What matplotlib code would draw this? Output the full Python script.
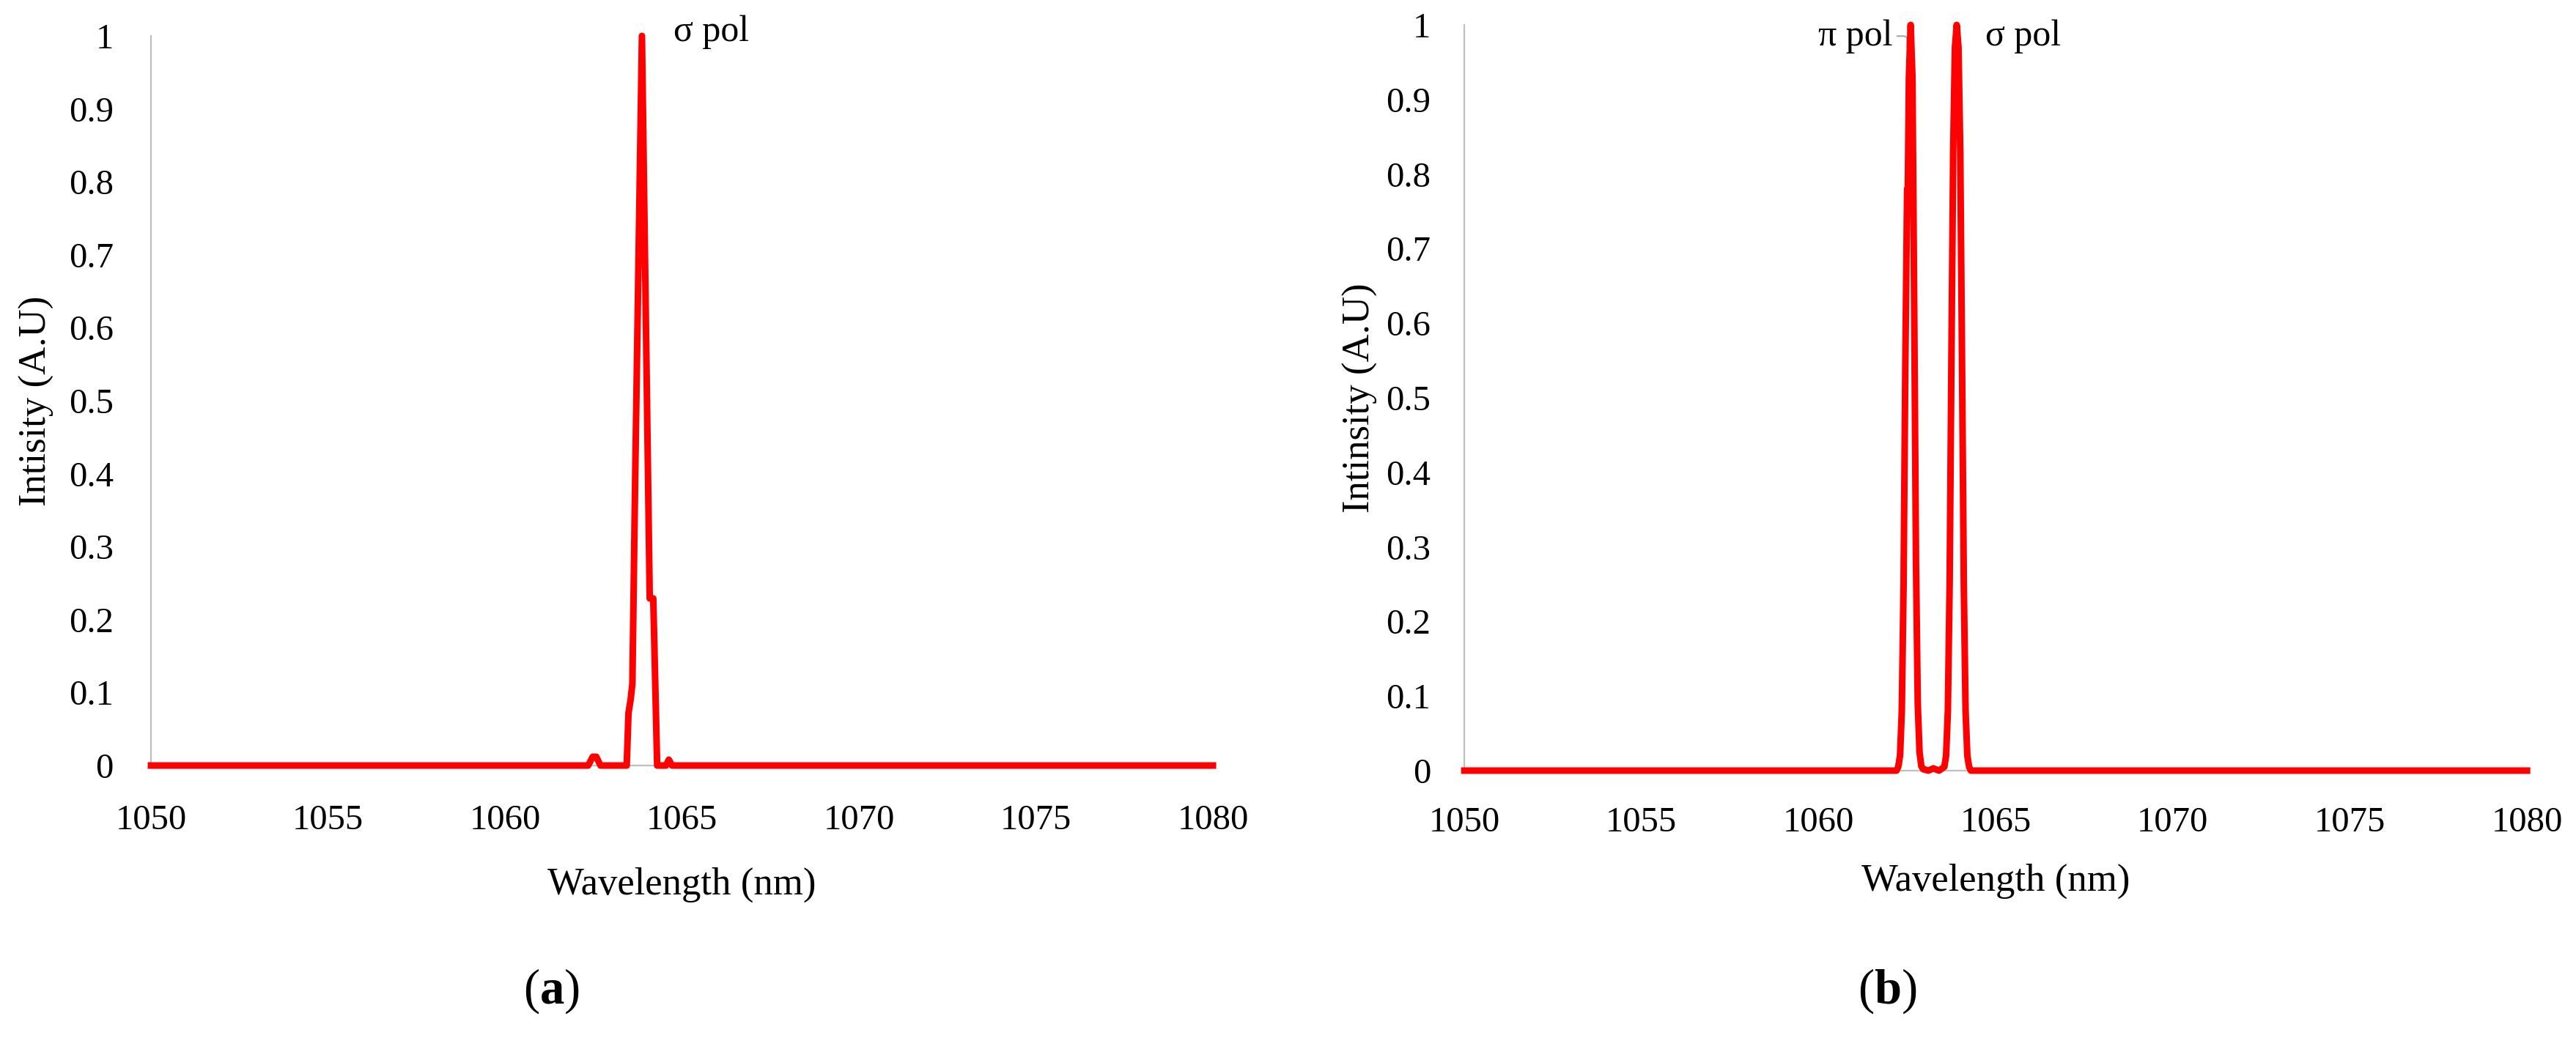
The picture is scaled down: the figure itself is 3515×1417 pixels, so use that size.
import matplotlib
matplotlib.use("Agg")
import matplotlib.pyplot as plt

plt.rcParams['font.family'] = ['Liberation Serif', 'DejaVu Serif']
plt.rcParams['mathtext.fontset'] = 'custom'
plt.rcParams['mathtext.rm'] = 'Liberation Serif'
plt.rcParams['mathtext.bf'] = 'Liberation Serif:bold'

# panel (a): sigma polarisation only
wl_a = [1050, 1062.35, 1062.48, 1062.58, 1062.7, 1063.44, 1063.49, 1063.55, 1063.60,
        1063.68, 1063.87, 1064.09, 1064.19, 1064.30, 1064.55, 1064.63, 1064.72, 1080]
int_a = [0, 0, 0.012, 0.012, 0, 0, 0.072, 0.09, 0.112,
         0.397, 1.0, 0.229, 0.229, 0, 0, 0.008, 0, 0]

# panel (b): pi and sigma polarisation
wl_b = [1050, 1062.20, 1062.25, 1062.30, 1062.35, 1062.40, 1062.45, 1062.50, 1062.52,
        1062.55, 1062.60, 1062.65, 1062.70, 1062.75, 1062.80, 1062.85, 1062.90, 1062.95,
        1063.10, 1063.24, 1063.40, 1063.55, 1063.60, 1063.65, 1063.70, 1063.75, 1063.80,
        1063.85, 1063.90, 1063.95, 1064.00, 1064.05, 1064.10, 1064.15, 1064.20, 1064.25,
        1064.30, 1080]
int_b = [0, 0, 0.005, 0.02, 0.08, 0.25, 0.55, 0.78, 0.78,
         0.93, 1.0, 0.93, 0.62, 0.28, 0.09, 0.025, 0.006, 0.002,
         0.0, 0.003, 0.0, 0.005, 0.02, 0.08, 0.25, 0.55, 0.83,
         0.97, 1.0, 0.97, 0.83, 0.55, 0.25, 0.08, 0.02, 0.005,
         0, 0]

x_ticks = [1050, 1055, 1060, 1065, 1070, 1075, 1080]
y_ticks = [0, 0.1, 0.2, 0.3, 0.4, 0.5, 0.6, 0.7, 0.8, 0.9, 1]
y_tick_labels = ["0", "0.1", "0.2", "0.3", "0.4", "0.5", "0.6", "0.7", "0.8", "0.9", "1"]

fig = plt.figure(figsize=(35.16, 14.17), dpi=100)
ax_a = fig.add_axes([0.0586, 0.2625, 0.4121, 0.7029])
ax_b = fig.add_axes([0.5683, 0.2576, 0.4124, 0.7184])


def style_axis(ax, ylabel, ypad, xpad, ylab_x, xlab_y):
    ax.set_xlim(1050, 1080)
    ax.set_ylim(0, 1)
    ax.set_xticks(x_ticks)
    ax.set_yticks(y_ticks)
    ax.set_yticklabels(y_tick_labels)
    ax.tick_params(axis='both', length=0, labelsize=35)
    ax.tick_params(axis='y', pad=ypad)
    ax.tick_params(axis='x', pad=xpad)
    for side in ['top', 'right']:
        ax.spines[side].set_visible(False)
    ax.spines['left'].set_color('#BFBFBF')
    ax.spines['bottom'].set_color('#BFBFBF')
    ax.spines['left'].set_linewidth(1.6)
    ax.spines['bottom'].set_linewidth(1.6)
    ax.set_xlabel("Wavelength (nm)", fontsize=38)
    ax.set_ylabel(ylabel, fontsize=38)
    ax.yaxis.set_label_coords(ylab_x, 0.5)
    ax.xaxis.set_label_coords(0.5, xlab_y)
    ax.xaxis.label.set_va('center')
    ax.yaxis.label.set_va('center')


# red trace sits above the grey axis line, as in the original
ax_a.plot(wl_a, int_a, color='#FF0000', lw=6.5, solid_joinstyle='round',
          clip_on=False, zorder=4)
style_axis(ax_a, "Intisity (A.U)", 37, 38, -0.108, -0.163)
ax_a.text(1064.76, 1.005, "σ pol", fontsize=36, ha='left', va='center')

ax_b.plot(wl_b, int_b, color='#FF0000', lw=6.5, solid_joinstyle='round',
          clip_on=False, zorder=4)
style_axis(ax_b, "Intinsity (A.U)", 33, 35, -0.098, -0.148)
ax_b.text(1064.71, 0.985, "σ pol", fontsize=36, ha='left', va='center')
ax_b.annotate("π pol", xy=(1062.5, 0.97), xytext=(1062.1, 0.985),
              fontsize=36, ha='right', va='center',
              arrowprops=dict(arrowstyle='-', color='#A6A6A6', lw=1.5,
                              shrinkA=2, shrinkB=0,
                              connectionstyle='angle,angleA=0,angleB=90,rad=5'))

fig.text(0.2139, 0.045, r"($\mathbf{a}$)", fontsize=48, ha='center', va='center')
fig.text(0.7324, 0.045, r"($\mathbf{b}$)", fontsize=48, ha='center', va='center')

fig.savefig("out.png", dpi=100)
